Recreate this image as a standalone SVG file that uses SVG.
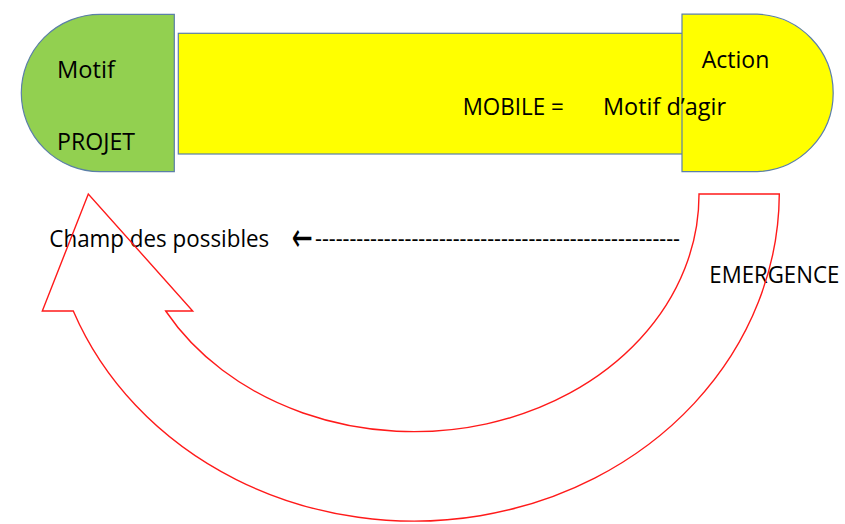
<svg xmlns="http://www.w3.org/2000/svg" width="845" height="524" viewBox="0 0 845 524">
<style>
  .lbl { font-family: "Open Sans", "Liberation Sans", Arial, sans-serif; font-size: 24px; fill: #000; }
  .arw { font-family: "DejaVu Sans", "Liberation Sans", sans-serif; font-size: 40px; fill: #000; }
  .box { stroke: #5b7fa8; stroke-width: 1.2; }
  .red { fill: none; stroke: #ff1a1a; stroke-width: 1.4; stroke-linejoin: miter; }
</style>
<rect x="0" y="0" width="845" height="524" fill="#ffffff"/>

<g id="mobile">
  <rect class="box" x="178.3" y="33.3" width="520" height="120.7" fill="#ffff00"/>
</g>

<g id="motif-projet">
  <path class="box" d="M174.3,14.3 L100,14.3 A78.7,78.7 0 0 0 100,171.7 L174.3,171.7 Z" fill="#92d050"/>
  <text class="lbl" x="57" y="77.5" textLength="58" lengthAdjust="spacingAndGlyphs">Motif</text>
  <text class="lbl" x="57" y="150" textLength="78" lengthAdjust="spacingAndGlyphs">PROJET</text>
</g>

<g id="action">
  <path class="box" d="M682,14.2 L757.2,14.2 A78.8,78.8 0 0 1 757.2,171.7 L682,171.7 Z" fill="#ffff00"/>
  <text class="lbl" x="701.7" y="68.3" textLength="67.6" lengthAdjust="spacingAndGlyphs">Action</text>
</g>

<g id="mobile-label">
  <text class="lbl" x="462.7" y="115" textLength="101" lengthAdjust="spacingAndGlyphs">MOBILE =</text>
  <text class="lbl" x="603" y="115" textLength="123" lengthAdjust="spacingAndGlyphs">Motif d’agir</text>
</g>

<g id="champ">
  <text class="lbl" x="49.3" y="246.7" textLength="220" lengthAdjust="spacingAndGlyphs">Champ des possibles</text>
</g>

<g id="emergence">
  <text class="lbl" x="709.3" y="283.3" textLength="130" lengthAdjust="spacingAndGlyphs">EMERGENCE</text>
</g>

<g id="connectors">
  <text class="arw" x="291.7" y="251" textLength="21" lengthAdjust="spacingAndGlyphs">←</text>
  <text class="lbl" x="315" y="246.7" textLength="365" lengthAdjust="spacingAndGlyphs">-----------------------------------------------------</text>
  <path class="red" d="M699,194 L779.3,194 A365.3,328.7 0 0 1 73.3,311 L42.3,311 L88.3,194 L192.7,311 L165.7,311 A285,237 0 0 0 699,194 Z"/>
</g>
</svg>
